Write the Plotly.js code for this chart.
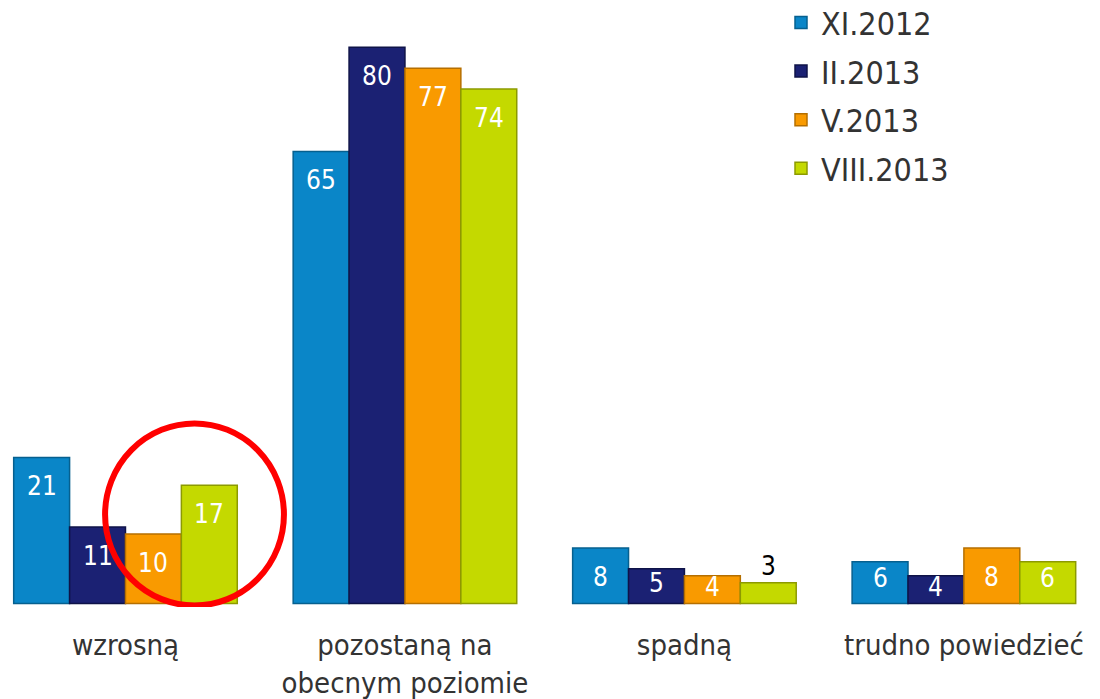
<!DOCTYPE html>
<html>
<head>
<meta charset="utf-8">
<script src="https://cdn.plot.ly/plotly-3.0.1.min.js"></script>
<style>html,body{margin:0;padding:0;background:#fff;}#chart{width:1100px;height:699px;}</style>
</head>
<body>
<div id="chart"></div>
<script>
const categories = ['wzrosną', 'pozostaną na<br>obecnym poziomie', 'spadną', 'trudno powiedzieć'];
const seriesNames = ['XI.2012', 'II.2013', 'V.2013', 'VIII.2013'];
const xi2012 = [21, 65, 8, 6];
const ii2013 = [11, 80, 5, 4];
const v2013 = [10, 77, 4, 8];
const viii2013 = [17, 74, 3, 6];
const seriesValues = [xi2012, ii2013, v2013, viii2013];
const colors = ['#0a86c8', '#1b2173', '#f99a00', '#c4d900'];
const edgeColors = ['#06608f', '#0f1348', '#b56f00', '#8c9a00'];

const FONT = 'DejaVu Sans Condensed, DejaVu Sans, sans-serif';
const xIdx = categories.map((c, i) => i);
const nS = seriesValues.length;
const groupWidth = 0.8;

const traces = seriesValues.map((vals, k) => ({
  type: 'bar',
  name: seriesNames[k],
  x: xIdx,
  y: vals,
  marker: {color: colors[k], line: {color: edgeColors[k], width: 1.5}},
  legendgroup: 'g' + k,
  hoverinfo: 'none'
}));

// value labels placed via annotations (inside near top; outside when bar is too short)
const annotations = [];
seriesValues.forEach((vals, k) => {
  const off = (k - (nS - 1) / 2) * (groupWidth / nS);
  vals.forEach((v, i) => {
    const outside = v < 4;
    const yPos = outside ? v + 2.45 : (v >= 8 ? v - 4.15 : v * 0.6);
    annotations.push({
      x: i + off, y: yPos, xref: 'x', yref: 'y',
      text: String(v), showarrow: false,
      xanchor: 'center', yanchor: 'middle',
      font: {family: FONT, size: 26, color: outside ? '#000000' : '#ffffff'}
    });
  });
});

const layout = {
  width: 1100,
  height: 699,
  margin: {l: 0, r: 0, t: 0, b: 92, autoexpand: false},
  paper_bgcolor: '#ffffff',
  plot_bgcolor: '#ffffff',
  barmode: 'group',
  bargap: 0.2,
  bargroupgap: 0,
  showlegend: true,
  legend: {
    x: 0.71, y: 1.008, xanchor: 'left', yanchor: 'top',
    font: {family: FONT, size: 32, color: '#333333'},
    traceorder: 'grouped',
    tracegroupgap: 4,
    itemwidth: 30,
    bgcolor: 'rgba(0,0,0,0)'
  },
  xaxis: {
    range: [-0.449, 3.487],
    tickmode: 'array',
    tickvals: xIdx,
    ticktext: categories,
    showgrid: false,
    zeroline: false,
    showline: false,
    ticks: '',
    automargin: false,
    ticklabelstandoff: 18,
    tickfont: {family: FONT, size: 29, color: '#333333'}
  },
  yaxis: {
    range: [-0.5, 86.8],
    visible: false,
    showgrid: false,
    zeroline: false
  },
  annotations: annotations,
  shapes: [{
    type: 'circle',
    xref: 'x', yref: 'y',
    x0: -0.073, x1: 0.567,
    y0: -0.29, y1: 25.9,
    line: {color: '#ff0000', width: 6},
    fillcolor: 'rgba(0,0,0,0)',
    layer: 'above'
  }]
};

Plotly.newPlot('chart', traces, layout, {displayModeBar: false, staticPlot: true});
</script>
</body>
</html>
